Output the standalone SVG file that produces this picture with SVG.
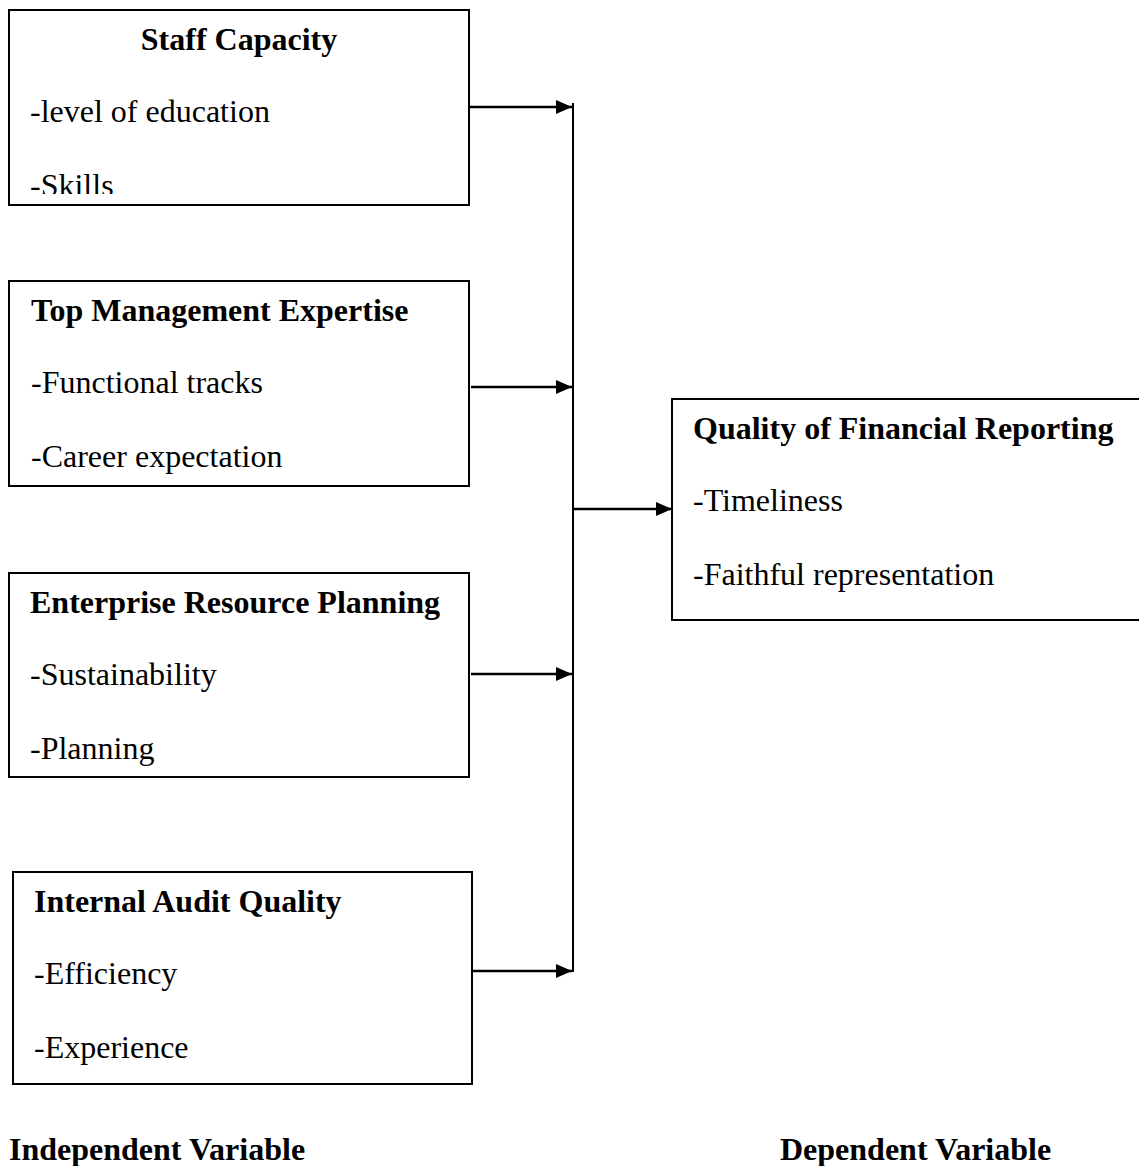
<svg xmlns="http://www.w3.org/2000/svg" width="1139" height="1166" viewBox="0 0 1139 1166">
  <style>
    .box { fill: #fff; stroke: #000; stroke-width: 2; }
    .title { font-family: "Liberation Serif", "Times New Roman", serif; font-weight: bold; font-size: 32px; fill: #000; }
    .item { font-family: "Liberation Serif", "Times New Roman", serif; font-size: 32px; fill: #000; }
    .wire { stroke: #000; stroke-width: 2.5; fill: none; }
    .bus { stroke: #000; stroke-width: 2; fill: none; }
  </style>
  <defs>
    <marker id="arrow" viewBox="0 0 16 14" refX="16" refY="7" markerWidth="16" markerHeight="14" markerUnits="userSpaceOnUse" orient="auto">
      <path d="M0,0 L16,7 L0,14 Z" fill="#000"/>
    </marker>
    <clipPath id="clipStaff">
      <rect x="9" y="10" width="460" height="184"/>
    </clipPath>
  </defs>
  <rect width="1139" height="1166" fill="#fff"/>

  <g id="staff-capacity">
    <rect class="box" x="9" y="10" width="460" height="195"/>
    <g clip-path="url(#clipStaff)">
      <text class="title" x="239" y="50" text-anchor="middle">Staff Capacity</text>
      <text class="item" x="30" y="122">-level of education</text>
      <text class="item" x="30" y="196">-Skills</text>
    </g>
  </g>

  <g id="top-management-expertise">
    <rect class="box" x="9" y="281" width="460" height="205"/>
    <text class="title" x="31" y="321">Top Management Expertise</text>
    <text class="item" x="31" y="393">-Functional tracks</text>
    <text class="item" x="31" y="467">-Career expectation</text>
  </g>

  <g id="enterprise-resource-planning">
    <rect class="box" x="9" y="573" width="460" height="204"/>
    <text class="title" x="30" y="613">Enterprise Resource Planning</text>
    <text class="item" x="30" y="685">-Sustainability</text>
    <text class="item" x="30" y="759">-Planning</text>
  </g>

  <g id="internal-audit-quality">
    <rect class="box" x="13" y="872" width="459" height="212"/>
    <text class="title" x="34" y="912">Internal Audit Quality</text>
    <text class="item" x="34" y="984">-Efficiency</text>
    <text class="item" x="34" y="1058">-Experience</text>
  </g>

  <g id="quality-of-financial-reporting">
    <rect class="box" x="672" y="399" width="470" height="221"/>
    <text class="title" x="693" y="439">Quality of Financial Reporting</text>
    <text class="item" x="693" y="511">-Timeliness</text>
    <text class="item" x="693" y="585">-Faithful representation</text>
  </g>

  <g id="connectors">
    <line class="bus" x1="573" y1="103" x2="573" y2="972"/>
    <line class="wire" x1="469" y1="107" x2="572" y2="107" marker-end="url(#arrow)"/>
    <line class="wire" x1="471" y1="387" x2="572" y2="387" marker-end="url(#arrow)"/>
    <line class="wire" x1="471" y1="674" x2="572" y2="674" marker-end="url(#arrow)"/>
    <line class="wire" x1="473" y1="971" x2="572" y2="971" marker-end="url(#arrow)"/>
    <line class="wire" x1="573" y1="509" x2="672" y2="509" marker-end="url(#arrow)"/>
  </g>

  <g id="legend">
    <text class="title" x="9" y="1160">Independent Variable</text>
    <text class="title" x="780" y="1160">Dependent Variable</text>
  </g>
</svg>
